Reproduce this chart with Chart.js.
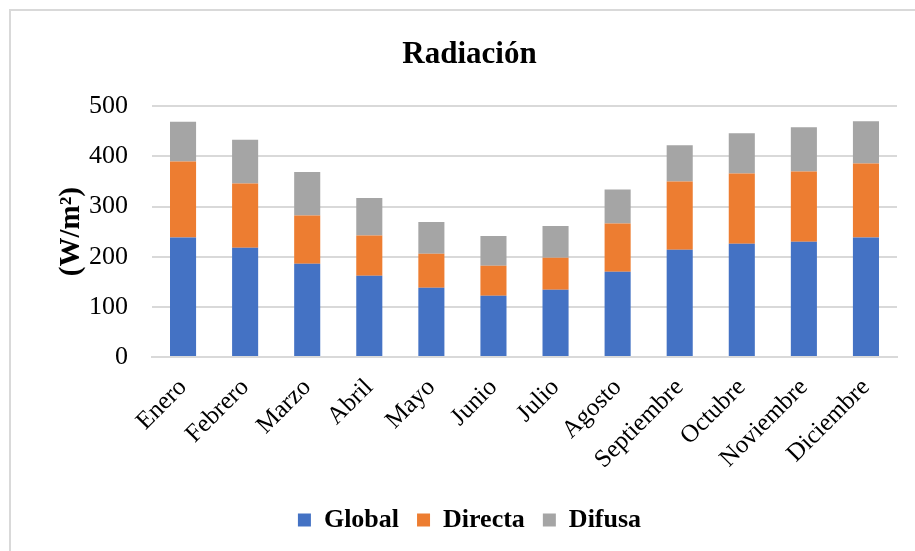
<!DOCTYPE html>
<html>
<head>
<meta charset="utf-8">
<script src="https://cdn.jsdelivr.net/npm/chart.js@4.4.0/dist/chart.umd.min.js"></script>
<style>
  html, body { margin: 0; padding: 0; background: #fff; }
  #wrap { position: relative; width: 915px; height: 551px; }
  #frame { position: absolute; left: 9px; top: 9px; right: -5px; bottom: -5px;
           border-left: 2px solid #d9d9d9; border-top: 2px solid #d9d9d9; }
  canvas { position: absolute; left: 0; top: 0; }
</style>
</head>
<body>
<div id="wrap">
  <div id="frame"></div>
  <canvas id="chart" width="915" height="551"></canvas>
</div>
<script>
// Monthly radiation, W/m2 (stacked segments)
const months = ["Enero", "Febrero", "Marzo", "Abril", "Mayo", "Junio",
                "Julio", "Agosto", "Septiembre", "Octubre", "Noviembre", "Diciembre"];
const globalVals  = [238, 218, 186, 162, 138, 122, 134, 170, 214, 226, 230, 238];
const directaVals = [152, 128, 96, 80, 68, 60, 64, 96, 136, 140, 140, 148];
const difusaVals  = [79, 87, 87, 75, 63, 59, 63, 68, 72, 80, 88, 84];
const yTicks = [0, 100, 200, 300, 400, 500];

const serif = "'Liberation Serif', 'Times New Roman', serif";

const ctx = document.getElementById("chart");
new Chart(ctx, {
  type: 'bar',
  data: {
    labels: months,
    datasets: [
      { label: "Global",  data: globalVals,  backgroundColor: "#4472c4" },
      { label: "Directa", data: directaVals, backgroundColor: "#ed7d31" },
      { label: "Difusa",  data: difusaVals,  backgroundColor: "#a5a5a5" }
    ]
  },
  options: {
    responsive: false,
    animation: false,
    devicePixelRatio: 1,
    // extra left padding pushes title/legend centre a bit right like the original
    layout: { padding: { left: 42, right: 18, top: 10, bottom: 8 } },
    datasets: { bar: { barPercentage: 1, categoryPercentage: 0.42 } },
    plugins: {
      title: {
        display: true,
        text: "Radiación",
        color: "#000",
        font: { family: serif, size: 31, weight: 'bold' },
        padding: { top: 26, bottom: 33 }
      },
      legend: {
        position: 'bottom',
        labels: {
          color: "#000",
          font: { family: serif, size: 26, weight: 'bold' },
          boxWidth: 13,
          boxHeight: 13,
          padding: 18
        }
      },
      tooltip: { enabled: false }
    },
    scales: {
      x: {
        stacked: true,
        grid: { display: false },
        border: { color: "#d9d9d9", width: 2 },
        ticks: {
          color: "#000",
          font: { family: serif, size: 25 },
          minRotation: 45,
          maxRotation: 45,
          padding: 8
        },
        afterFit: (scale) => { scale.height = 132; }
      },
      y: {
        stacked: true,
        min: 0,
        max: 500,
        afterBuildTicks: (scale) => { scale.ticks = yTicks.map((v) => ({ value: v })); },
        grid: { color: "#d9d9d9", lineWidth: 2, drawTicks: false },
        border: { display: false },
        ticks: {
          color: "#000",
          font: { family: serif, size: 26 },
          padding: 24
        },
        title: {
          display: true,
          text: "(W/m²)",
          color: "#000",
          font: { family: serif, size: 29, weight: 'bold' },
          padding: { top: 12, bottom: 0 }
        },
        afterFit: (scale) => { scale.width = 110; }
      }
    }
  }
});
</script>
</body>
</html>
